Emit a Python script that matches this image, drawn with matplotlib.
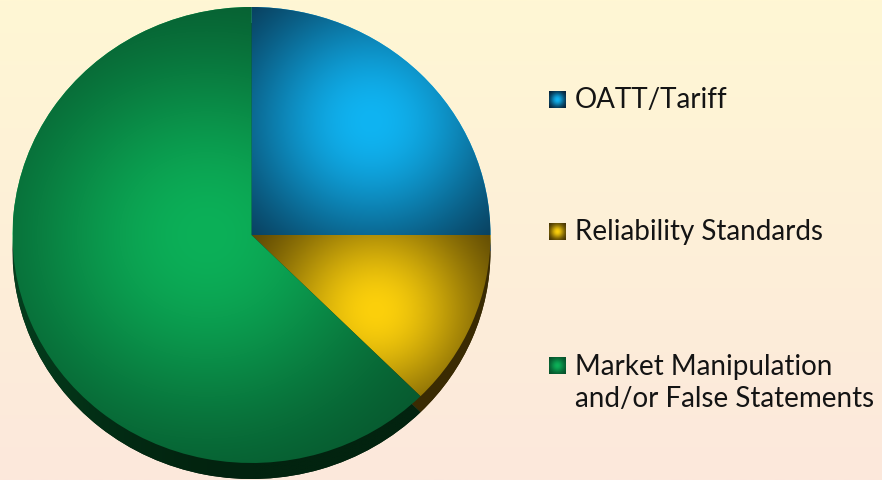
import matplotlib as mpl

mpl.use('Agg')
import matplotlib.pyplot as plt
import numpy as np
from matplotlib.colors import to_rgb

labels = ['OATT/Tariff', 'Reliability Standards',
          'Market Manipulation\nand/or False Statements']
shares = [25.0, 12.5, 62.5]
bright = ['#10b4f2', '#fcd00c', '#0cb058']
dark = ['#06182c', '#3a2a02', '#064a28']
rim = ['#06223a', '#3a2b03', '#02230f']
# highlight spot (pie units) and spread for each slice
hot = [(0.50, 0.50), (0.52, -0.33), (-0.19, 0.0)]
spread = [0.78, 0.60, 1.08]

W, H = 882, 480
fig = plt.figure(figsize=(W / 100, H / 100), dpi=100)

# background gradient, cream at top to peach at bottom
bg = fig.add_axes([0, 0, 1, 1])
bg.set_axis_off()
t = np.linspace(0, 1, 256)[:, None, None]
bg.imshow(np.array(to_rgb('#fff7d4')) * (1 - t) + np.array(to_rgb('#fce8dc')) * t,
          aspect='auto', extent=(0, 1, 0, 1))

# pie, stretched to an ellipse, with a shifted dark copy as the 3d rim
d = 16 / 228
ax = fig.add_axes([12.5 / W, 1 / H, 478 / W, 472 / H])
rim_w, _ = ax.pie(shares, colors=rim, startangle=90, counterclock=False,
                  center=(0, -d), wedgeprops=dict(linewidth=0))
top_w, _ = ax.pie(shares, colors=bright, startangle=90, counterclock=False,
                  wedgeprops=dict(linewidth=0))
ax.set_aspect('auto')
ax.set_axis_off()

n = 400
X, Y = np.meshgrid(np.linspace(-1, 1, n), np.linspace(-1 - d, 1, n))
for i in range(len(shares)):
    hx, hy = hot[i]
    r = np.hypot(X - hx, Y - hy) / spread[i]
    f = np.exp(-1.6 * r ** 2)[..., None]
    b = np.array(to_rgb(bright[i]))
    k = np.array(to_rgb(dark[i]))
    im = ax.imshow(k + (b - k) * f, extent=(-1, 1, -1 - d, 1), origin='lower',
                   aspect='auto', zorder=3, interpolation='bilinear')
    im.set_clip_path(top_w[i])
    # rim: lighter on the left side, dark toward the bottom right
    g = (np.clip(-X, 0, 1) ** 2 * 0.45)[..., None]
    c = np.array(to_rgb(rim[i]))
    im2 = ax.imshow(c + (b * 0.55 - c) * g, extent=(-1, 1, -1 - d, 1),
                    origin='lower', aspect='auto', zorder=1,
                    interpolation='bilinear')
    im2.set_clip_path(rim_w[i])
ax.set_xlim(-1, 1)
ax.set_ylim(-1 - d, 1)

# legend in pixel coordinates
lg = fig.add_axes([0, 0, 1, 1], facecolor='none')
lg.set_axis_off()
box_y = [100, 232, 366]
text_y = [100, 232, 383]
s = np.linspace(-1, 1, 24)
SX, SY = np.meshgrid(s, s)
for i in range(len(labels)):
    b = np.array(to_rgb(bright[i]))
    k = np.array(to_rgb(dark[i]))
    f = np.exp(-1.4 * (SX ** 2 + SY ** 2))[..., None]
    lg.imshow(k + (b - k) * f, extent=(549, 566, box_y[i] + 8.5, box_y[i] - 8.5),
              aspect='auto', interpolation='bilinear')
    lg.text(575, text_y[i], labels[i], fontsize=20, family='Lato',
            color='#141414', va='center', linespacing=1.33)
lg.set_xlim(0, W)
lg.set_ylim(H, 0)

fig.savefig('out.png', dpi=100)
